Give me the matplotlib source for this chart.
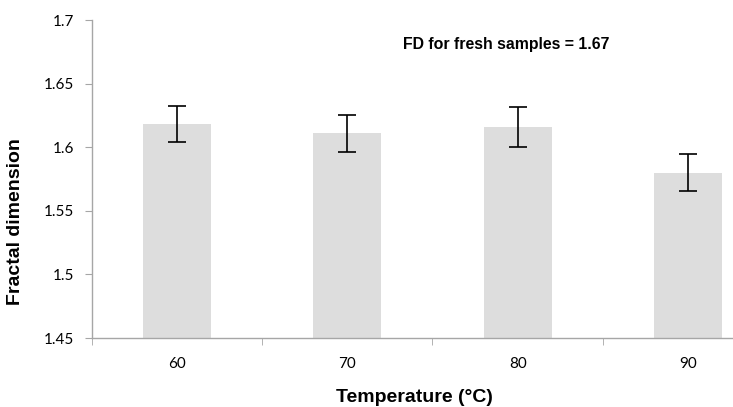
import numpy as np
import matplotlib.pyplot as plt

# Temperature categories and fractal dimension values
temps = ['60', '70', '80', '90']
fd_mean = [1.618, 1.611, 1.616, 1.580]
fd_err = [0.014, 0.0145, 0.0155, 0.0143]

fig = plt.figure(figsize=[7.33, 4.07], dpi=100)
# plot area runs past the right edge of the image, as in the original
ax = fig.add_axes([92 / 733, 1 - 338 / 407, 681 / 733, 318 / 407])

x = np.arange(len(temps))
ax.bar(x, fd_mean, width=0.4, color='#dddddd', zorder=1)
ax.errorbar(x, fd_mean, yerr=fd_err, fmt='none', ecolor='black',
            elinewidth=1.2, capsize=6.5, capthick=1.2, zorder=2)

ax.set_xlim(-0.5, len(temps) - 0.5)
ax.set_ylim(1.45, 1.7)
ax.set_yticks(np.arange(1.45, 1.7001, 0.05))
ax.set_yticklabels(['1.45', '1.5', '1.55', '1.6', '1.65', '1.7'])
ax.set_xticks(x)
ax.set_xticklabels(temps)
ax.set_xticks(np.arange(-0.5, len(temps), 1.0), minor=True)

for side in ['top', 'right']:
    ax.spines[side].set_visible(False)
for side in ['left', 'bottom']:
    ax.spines[side].set_color('#a6a6a6')
    ax.spines[side].set_linewidth(1.0)

ax.tick_params(axis='y', direction='out', length=5, color='#a6a6a6',
               labelsize=11, pad=8)
ax.tick_params(axis='x', which='major', length=0, labelsize=11, pad=14)
ax.tick_params(axis='x', which='minor', direction='out', length=5,
               color='#a6a6a6')
for lab in ax.get_xticklabels() + ax.get_yticklabels():
    lab.set_fontfamily('Lato')

fig.text(16 / 733, 1 - 222 / 407, 'Fractal dimension', rotation=90,
         ha='center', va='center', fontsize=14, fontweight='bold',
         fontfamily='Liberation Sans')
fig.text(414 / 733, 1 - 397 / 407, 'Temperature (°C)', ha='center',
         va='center', fontsize=14, fontweight='bold',
         fontfamily='Liberation Sans')
fig.text(403 / 733, 1 - 44 / 407, 'FD for fresh samples = 1.67', ha='left',
         va='center', fontsize=11.4, fontweight='bold',
         fontfamily='Liberation Sans')

plt.savefig('out.png')
